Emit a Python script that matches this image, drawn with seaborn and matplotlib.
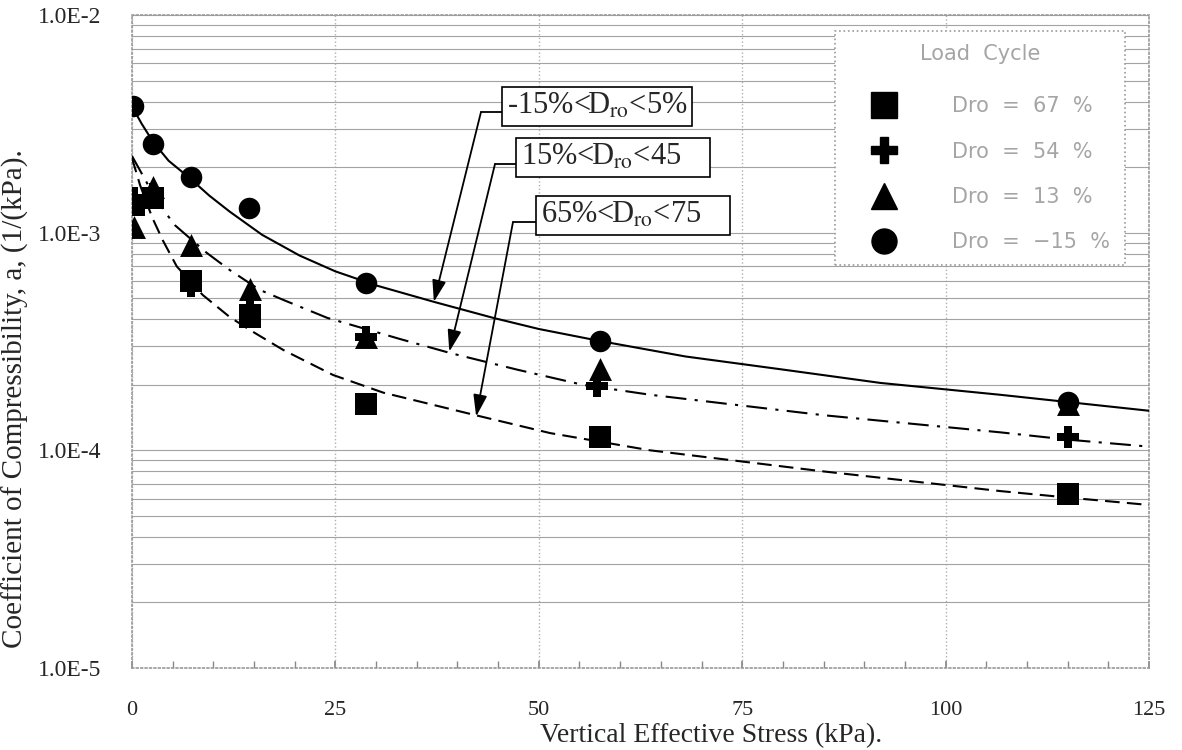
import matplotlib
matplotlib.use("Agg")
import numpy as np
import pandas as pd
import seaborn as sns
import matplotlib.pyplot as plt
from matplotlib.lines import Line2D
from matplotlib.ticker import FixedLocator, FixedFormatter, LogLocator, NullFormatter, MultipleLocator

# ---------------- data ----------------
stress_sq = [0.25, 2.6, 7.2, 14.5, 28.8, 57.5, 115]
coef_sq = [1.34e-3, 1.44e-3, 6.0e-4, 4.1e-4, 1.63e-4, 1.15e-4, 6.3e-5]

stress_plus = [0.25, 2.6, 7.2, 14.5, 28.8, 57.2, 115]
coef_plus = [1.45e-3, 1.50e-3, 5.7e-4, 4.5e-4, 3.3e-4, 1.97e-4, 1.15e-4]

stress_tri = [0.25, 2.6, 7.2, 14.5, 28.8, 57.5, 115]
coef_tri = [1.06e-3, 1.62e-3, 8.8e-4, 5.5e-4, 3.3e-4, 2.36e-4, 1.63e-4]

stress_circ = [0.15, 2.6, 7.2, 14.4, 28.8, 57.5, 115]
coef_circ = [3.8e-3, 2.55e-3, 1.81e-3, 1.30e-3, 5.9e-4, 3.18e-4, 1.67e-4]

# trend lines
trend_solid_x = [0, 1.2, 2.6, 4.5, 7.1, 9.5, 12, 16, 20.6, 25, 30.1, 37.2, 44.4, 50,
                 57.5, 68, 80, 92, 106.7, 125]
trend_solid_y = [3.80e-3, 3.16e-3, 2.61e-3, 2.14e-3, 1.78e-3, 1.48e-3, 1.25e-3, 9.77e-4,
                 7.85e-4, 6.64e-4, 5.71e-4, 4.80e-4, 4.06e-4, 3.61e-4, 3.18e-4, 2.70e-4,
                 2.35e-4, 2.04e-4, 1.80e-4, 1.52e-4]

trend_dashdot_x = [0, 2.0, 4.3, 5.3, 9.2, 12.0, 15.7, 18.6, 24.0, 32.9, 39.1, 47.3,
                   55.4, 63.7, 85, 106.7, 115, 125]
trend_dashdot_y = [2.25e-3, 1.65e-3, 1.21e-3, 1.08e-3, 8.07e-4, 6.74e-4, 5.46e-4, 4.91e-4,
                   4.06e-4, 3.25e-4, 2.80e-4, 2.35e-4, 2.0e-4, 1.80e-4, 1.45e-4, 1.21e-4,
                   1.12e-4, 1.04e-4]

trend_dash_x = [0, 1.0, 2.5, 3.8, 5.5, 8.7, 12.0, 14.5, 18.6, 24.7, 30.9, 41.9, 51.4,
                63.7, 85, 106.7, 115, 125]
trend_dash_y = [2.2e-3, 1.65e-3, 1.17e-3, 9.2e-4, 7.0e-4, 5.17e-4, 4.10e-4, 3.57e-4,
                2.89e-4, 2.22e-4, 1.84e-4, 1.46e-4, 1.20e-4, 1.00e-4, 8.0e-5, 6.5e-5,
                6.07e-5, 5.61e-5]

legend_labels = ["Dro  =  67  %", "Dro  =  54  %", "Dro  =  13  %", "Dro  =  \u221215  %"]
legend_title = "Load  Cycle"
box_labels = ["-15%<D$_{\\mathrm{ro}}$<5%", "15%<D$_{\\mathrm{ro}}$<45    ",
              "65%<D$_{\\mathrm{ro}}$<75    "]
arrow_tips = [(37.1, 4.81e-4), (39.0, 2.84e-4), (42.3, 1.43e-4)]

x_ticks = [0, 25, 50, 75, 100, 125]
y_ticks = [1e-5, 1e-4, 1e-3, 1e-2]
y_ticklabels = ["1.0E-5", "1.0E-4", "1.0E-3", "1.0E-2"]

# ---------------- figure ----------------
sns.set_theme(style="white")
plt.rcParams['font.family'] = ['Liberation Serif', 'DejaVu Serif']
plt.rcParams['mathtext.fontset'] = 'stix'

W, H = 1182, 750
fig = plt.figure(figsize=(W / 100, H / 100), dpi=100)
ax = fig.add_axes([132 / W, 1 - 668 / H, (1149 - 132) / W, (668 - 15) / H])

# trend lines
sns.lineplot(x=trend_solid_x, y=trend_solid_y, ax=ax, color='black', lw=1.5, zorder=3)
sns.lineplot(x=trend_dashdot_x, y=trend_dashdot_y, ax=ax, color='black', lw=1.5,
             linestyle=(0, (10, 4, 1.5, 4)), zorder=3)
sns.lineplot(x=trend_dash_x, y=trend_dash_y, ax=ax, color='black', lw=1.5,
             linestyle=(0, (7, 3.5)), zorder=3)

# markers
sns.scatterplot(x=stress_plus, y=coef_plus, ax=ax, marker='P', s=16.5 ** 2,
                color='black', linewidth=0, zorder=4)
sns.scatterplot(x=stress_tri, y=coef_tri, ax=ax, marker='^', s=16.5 ** 2,
                color='black', linewidth=0, zorder=5)
sns.scatterplot(x=stress_sq, y=coef_sq, ax=ax, marker='s', s=16.5 ** 2,
                color='black', linewidth=0, zorder=6)
sns.scatterplot(x=stress_circ, y=coef_circ, ax=ax, marker='o', s=15.5 ** 2,
                color='black', linewidth=0, zorder=7)

# axes scales
ax.set_yscale('log')
ax.set_ylim(1e-5, 1e-2)
ax.set_xlim(0, 125)

ax.yaxis.set_major_locator(FixedLocator(y_ticks))
ax.yaxis.set_major_formatter(FixedFormatter(y_ticklabels))
ax.yaxis.set_minor_locator(LogLocator(base=10, subs=np.arange(2, 10)))
ax.yaxis.set_minor_formatter(NullFormatter())
ax.xaxis.set_major_locator(FixedLocator(x_ticks))
ax.xaxis.set_minor_locator(MultipleLocator(5))

ax.set_axisbelow(True)
ax.yaxis.grid(True, which='both', color='#a3a3a3', lw=0.8, ls='-')
ax.xaxis.grid(True, which='major', color='#b0b0b0', lw=1.0, ls=':')

for sp in ax.spines.values():
    sp.set_color('#9a9a9a')
    sp.set_linestyle(':')
    sp.set_linewidth(1.2)

ax.tick_params(axis='y', which='both', length=0, labelsize=17, pad=22)
ax.tick_params(axis='x', which='major', length=5, direction='in', color='#888888',
               labelsize=16, pad=24, bottom=True)
ax.tick_params(axis='x', which='minor', length=5, direction='in', color='#888888', bottom=True)

ax.set_xlabel('Vertical Effective Stress (kPa).', fontsize=20)
ax.xaxis.label.set_va('center')
ax.xaxis.set_label_coords((711 - 132) / 1017, (668 - 736) / 653)
ax.set_ylabel('Coefficient of Compressibility, a, (1/(kPa).', fontsize=21)
ax.yaxis.label.set_va('center')
ax.yaxis.label.set_ha('center')
ax.yaxis.set_label_coords((15 - 132) / 1017, (668 - 399) / 653)

# legend
handles = [
    Line2D([], [], marker='s', color='black', ls='none', markersize=19),
    Line2D([], [], marker='P', color='black', ls='none', markersize=19),
    Line2D([], [], marker='^', color='black', ls='none', markersize=19),
    Line2D([], [], marker='o', color='black', ls='none', markersize=18),
]
x0 = (835 - 132) / 1017
wdt = (1125 - 132) / 1017 - x0
ytop = 1 - (31 - 15) / 653
leg = ax.legend(handles, legend_labels, title=legend_title, loc='upper left',
                bbox_to_anchor=(x0, ytop - 0.5, wdt, 0.5), mode='expand', borderaxespad=0,
                fancybox=False, frameon=True, handlelength=3.5, handletextpad=1.52,
                labelspacing=1.22, borderpad=0.6,
                prop={'family': 'DejaVu Sans', 'size': 15},
                title_fontproperties={'family': 'DejaVu Sans', 'size': 15})
leg._legend_box.sep = 23.5
leg.get_frame().set_edgecolor('#9a9a9a')
leg.get_frame().set_linestyle(':')
leg.get_frame().set_linewidth(1.2)
leg.get_frame().set_facecolor('white')
leg.get_frame().set_alpha(1)
leg.get_title().set_color('#a5a5a5')
for t in leg.get_texts():
    t.set_color('#a5a5a5')
leg.set_zorder(10)

# annotation boxes (pixel geometry from reference, top-left origin)
boxes = [  # left, center_y, corner_x, connector_y
    (503, 106.5, 481, 112),
    (517, 157.5, 495, 164),
    (537, 215.5, 513, 222),
]
for (left, cy, cx, cy2), label, tip in zip(boxes, box_labels, arrow_tips):
    fig.text((left + 4) / W, 1 - cy / H, label, fontsize=22, ha='left', va='center',
             family='Liberation Serif',
             bbox=dict(boxstyle='square,pad=0.15', fc='white', ec='black', lw=1.2), zorder=12)
    fig.add_artist(Line2D([cx / W, left / W], [1 - cy2 / H, 1 - cy2 / H],
                          transform=fig.transFigure, color='black', lw=1.3))
    ax.annotate('', xy=tip, xycoords='data', xytext=(cx / W, 1 - cy2 / H),
                textcoords='figure fraction',
                arrowprops=dict(arrowstyle='-|>,head_length=1.1,head_width=0.35',
                                color='black', lw=1.3, shrinkA=0, shrinkB=0))

fig.savefig('out.png', dpi=100)
